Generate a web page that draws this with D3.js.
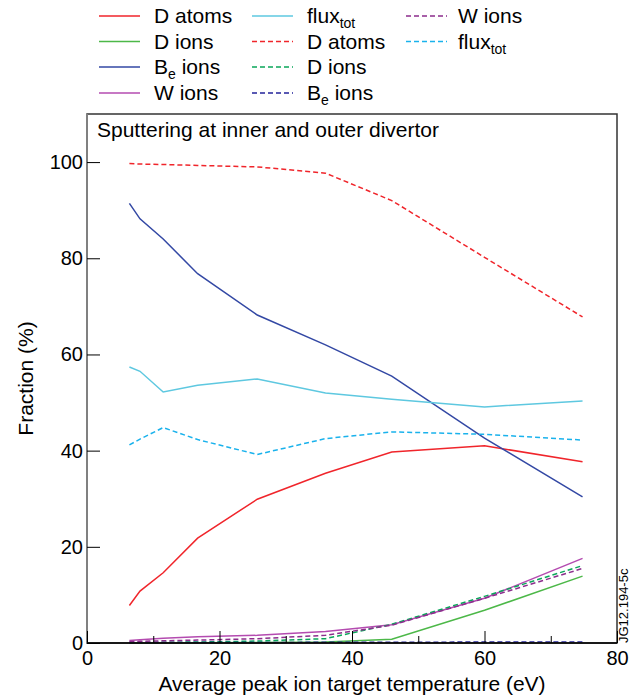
<!DOCTYPE html>
<html>
<head>
<meta charset="utf-8">
<script src="https://cdn.jsdelivr.net/npm/d3@7"></script>
<style>
    body { margin: 0; background: #fff; }
    svg { font-family: "Liberation Sans", Arial, sans-serif; }
</style>
</head>
<body>
<div id="chart-container"></div>
<script>

// average peak ion target temperature (eV)
let temps = [6.4, 8, 11.5, 16.7, 25.7, 36, 46, 60, 74.8]

// solid lines
let d_atoms_solid   = [7.8, 10.8, 14.6, 21.8, 29.9, 35.3, 39.7, 41.0, 37.7]
let d_ions_solid    = [0.0, 0.0, 0.0, 0.05, 0.1, 0.2, 0.8, 6.8, 13.9]
let be_ions_solid   = [91.4, 88.2, 84.0, 76.8, 68.2, 62.0, 55.5, 42.6, 30.4]
let w_ions_solid    = [0.5, 0.7, 1.0, 1.3, 1.6, 2.4, 3.8, 9.3, 17.6]
let flux_tot_solid  = [57.4, 56.5, 52.2, 53.6, 54.9, 52.0, 50.7, 49.1, 50.3]

// dashed lines
let d_atoms_dashed  = [99.7, 99.6, 99.5, 99.3, 99.0, 97.7, 92.0, 80.2, 67.8]
let d_ions_dashed   = [0.05, 0.1, 0.15, 0.2, 0.4, 0.9, 3.9, 9.7, 16.1]
let be_ions_dashed  = [0.1, 0.1, 0.1, 0.1, 0.1, 0.15, 0.15, 0.2, 0.2]
let w_ions_dashed   = [0.3, 0.35, 0.45, 0.6, 0.9, 1.6, 3.7, 9.3, 15.5]
let flux_tot_dashed = [41.2, 42.4, 44.8, 42.3, 39.2, 42.5, 43.9, 43.4, 42.2]

let x_ticks = [0, 20, 40, 60, 80]
let x_minor_ticks = [10, 30, 50, 70]
let y_ticks = [0, 20, 40, 60, 80, 100]

let series = [
    {name: "D atoms", sub: "", values: d_atoms_solid, color: "#f0252b", dash: null, col: 0, row: 0},
    {name: "D ions", sub: "", values: d_ions_solid, color: "#4cb848", dash: null, col: 0, row: 1},
    {name: "B", sub: "e", rest: " ions", values: be_ions_solid, color: "#3348a4", dash: null, col: 0, row: 2},
    {name: "W ions", sub: "", values: w_ions_solid, color: "#b44bb0", dash: null, col: 0, row: 3},
    {name: "flux", sub: "tot", values: flux_tot_solid, color: "#5ec8e0", dash: null, col: 1, row: 0},
    {name: "D atoms", sub: "", values: d_atoms_dashed, color: "#f0252b", dash: "5,3", col: 1, row: 1},
    {name: "D ions", sub: "", values: d_ions_dashed, color: "#0aa65a", dash: "5,3", col: 1, row: 2},
    {name: "B", sub: "e", rest: " ions", values: be_ions_dashed, color: "#23239a", dash: "5,3", col: 1, row: 3},
    {name: "W ions", sub: "", values: w_ions_dashed, color: "#8c2d8c", dash: "5,3", col: 2, row: 0},
    {name: "flux", sub: "tot", values: flux_tot_dashed, color: "#1ab2ec", dash: "5,3", col: 2, row: 1}
]

let margins = {top: 114, bottom: 57, left: 87, right: 13}
let svgWidth = 630
let svgHeight = 700
let width = svgWidth - margins.left - margins.right
let height = svgHeight - margins.top - margins.bottom

let x = d3.scaleLinear()
    .domain([0, 80])
    .range([0, width])

let y = d3.scaleLinear()
    .domain([0, 110])
    .range([height, 0])

let root = d3.select('#chart-container')
    .append("svg")
        .attr("width", svgWidth)
        .attr("height", svgHeight)

let svg = root.append("g")
    .attr("transform", `translate(${margins.left},${margins.top})`)

//LINES
let line = d3.line()
    .x(function(d, i) { return x(temps[i]) })
    .y(function(d) { return y(d) })

series.forEach(function(s){
    svg.append("path")
        .datum(s.values)
        .attr("d", line)
        .attr("fill", "none")
        .attr("stroke", s.color)
        .attr("stroke-width", 1.5)
        .attr("stroke-dasharray", s.dash)
})

//FRAME
svg.append("rect")
    .attr("x", 0).attr("y", 0)
    .attr("width", width).attr("height", height)
    .attr("fill", "none")
    .attr("stroke", "#333")
    .attr("stroke-width", 1.5)

svg.append("line")
    .attr("x1", 0).attr("x2", 0)
    .attr("y1", 0).attr("y2", height)
    .attr("stroke", "#808080")
    .attr("stroke-width", 2)

svg.append("line")
    .attr("x1", 0).attr("x2", width)
    .attr("y1", height).attr("y2", height)
    .attr("stroke", "#000")
    .attr("stroke-width", 1.5)

//X-AXIS LABELS
let xAxis = svg.append('g')
    .attr('transform', `translate(0, ${height})`)
    .call(d3.axisBottom(x).tickValues(x_ticks).tickSize(-12).tickPadding(8))
xAxis.select('.domain').remove()
xAxis.selectAll('text').attr('font-size', 20).attr('fill', '#000').attr('font-family', null)
xAxis.selectAll('line').attr('stroke', '#000')

let xMinor = svg.append('g')
    .attr('transform', `translate(0, ${height})`)
    .call(d3.axisBottom(x).tickValues(x_minor_ticks).tickSize(-7).tickFormat(""))
xMinor.select('.domain').remove()
xMinor.selectAll('line').attr('stroke', '#000')

//Y-AXIS LABELS
let yAxis = svg.append('g')
    .call(d3.axisLeft(y).tickValues(y_ticks).tickSize(-13).tickPadding(4))
yAxis.select('.domain').remove()
yAxis.selectAll('text').attr('font-size', 20).attr('fill', '#000').attr('font-family', null)
yAxis.selectAll('line').attr('stroke', '#000')

//TITLES
svg.append("text")
    .attr("x", 10)
    .attr("y", 23)
    .attr("font-size", 21)
    .text("Sputtering at inner and outer divertor")

root.append("text")
    .attr("x", margins.left + width / 2)
    .attr("y", 691)
    .attr("text-anchor", "middle")
    .attr("font-size", 21)
    .text("Average peak ion target temperature (eV)")

root.append("text")
    .attr("transform", `translate(33, ${margins.top + height / 2}) rotate(-90)`)
    .attr("text-anchor", "middle")
    .attr("font-size", 21)
    .text("Fraction (%)")

root.append("text")
    .attr("transform", `translate(628, ${margins.top + height}) rotate(-90)`)
    .attr("font-size", 13)
    .text("JG12.194-5c")

//LEGEND
let col_x = [99, 252, 406]
let row_y = [16, 41.5, 67, 93]

series.forEach(function(s){
    let lx = col_x[s.col]
    let ly = row_y[s.row]
    root.append("line")
        .attr("x1", lx).attr("x2", lx + 41)
        .attr("y1", ly).attr("y2", ly)
        .attr("stroke", s.color)
        .attr("stroke-width", 1.5)
        .attr("stroke-dasharray", s.dash)
    let t = root.append("text")
        .attr("x", lx + (s.col == 2 ? 52 : 55))
        .attr("y", ly + 7)
        .attr("font-size", 21)
    t.append("tspan").text(s.name)
    if (s.sub) {
        t.append("tspan").attr("font-size", 14).attr("dy", 5).text(s.sub)
    }
    if (s.rest) {
        t.append("tspan").attr("dy", -5).text(s.rest)
    }
})

</script>
</body>
</html>
